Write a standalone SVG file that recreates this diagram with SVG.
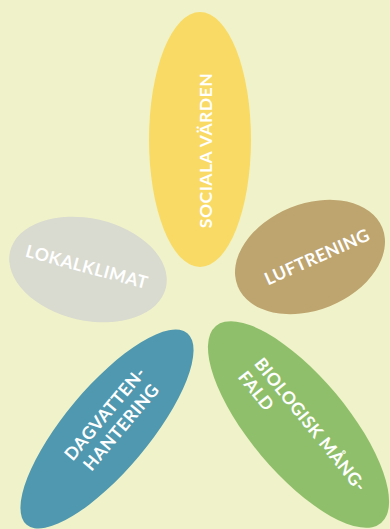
<svg xmlns="http://www.w3.org/2000/svg" width="390" height="529" viewBox="0 0 390 529">
<style>
.lbl{font-family:"Lato","Liberation Sans",sans-serif;font-weight:bold;font-size:17.5px;letter-spacing:0.5px;fill:#ffffff;dominant-baseline:central}
.c{text-anchor:middle}
</style>
<rect width="390" height="529" fill="#F0F3C9"/>
<g id="sociala">
<ellipse cx="200" cy="139.5" rx="51" ry="127.5" fill="#F9DA65"/>
<text class="lbl c" transform="translate(205,150.5) rotate(-90)">SOCIALA VÄRDEN</text>
</g>
<g id="lokalklimat">
<ellipse cx="0" cy="0" rx="80" ry="51" fill="#D9DAD0" transform="translate(88,269.5) rotate(13)"/>
<text class="lbl c" transform="translate(87,266.5) rotate(15)">LOKALKLIMAT</text>
</g>
<g id="luftrening">
<ellipse cx="0" cy="0" rx="78" ry="53" fill="#BEA46F" transform="translate(310,257) rotate(-22)"/>
<text class="lbl c" transform="translate(317,256.5) rotate(-24)">LUFTRENING</text>
</g>
<g id="dagvatten">
<ellipse cx="0" cy="0" rx="42" ry="125" fill="#4F98B0" transform="translate(107,429) rotate(40)"/>
<text class="lbl c" transform="translate(112,419.5) rotate(-50)"><tspan x="0" y="-10">DAGVATTEN-</tspan><tspan x="0" y="11">HANTERING</tspan></text>
</g>
<g id="biologisk">
<ellipse cx="0" cy="0" rx="48.5" ry="128.5" fill="#8FBF6B" transform="translate(298.5,424.5) rotate(-40)"/>
<text class="lbl" transform="translate(263.3,365) rotate(51)"><tspan x="-7" y="0">BIOLOGISK MÅNG-</tspan><tspan x="-7" y="21">FALD</tspan></text>
</g>
<g id="connectors"/>
</svg>
